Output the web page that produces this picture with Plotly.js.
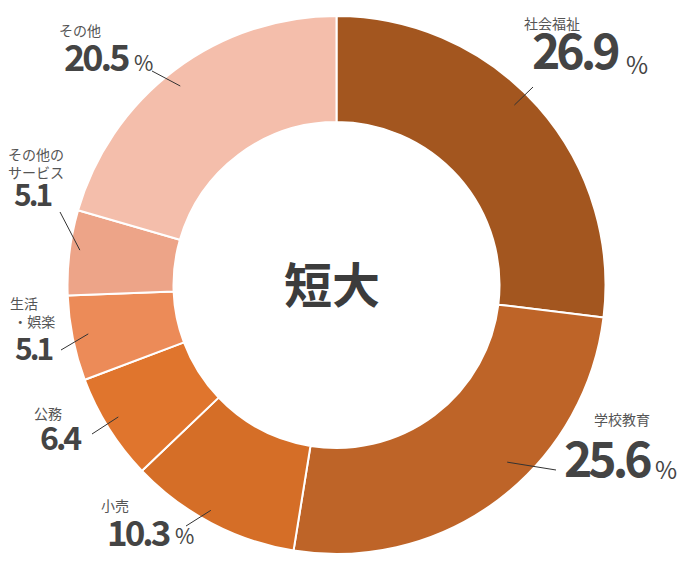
<!DOCTYPE html>
<html>
<head>
<meta charset="utf-8">
<script src="https://cdn.plot.ly/plotly-3.0.1.min.js"></script>
<style>html,body{margin:0;padding:0;background:#fff;}#chart{width:678px;height:571px;}</style>
</head>
<body>
<div id="chart"></div>
<script>
// ---- data ----
const categories = ['社会福祉', '学校教育', '小売', '公務', '生活・娯楽', 'その他のサービス', 'その他'];
const displayNames = ['社会福祉', '学校教育', '小売', '公務', '生活<br> ・娯楽', 'その他の<br>サービス', 'その他'];
const shares = [26.9, 25.6, 10.3, 6.4, 5.1, 5.1, 20.5];
const showPercent = [true, true, true, false, false, false, true];
const centerLabel = '短大';

// ---- styling / layout config ----
const W = 678, H = 571;
const colors = ['#A3561F', '#BE6428', '#D56E27', '#E0752D', '#EC8B58', '#EDA488', '#F4BEAB'];
const CX = 336.5, CY = 285, R = 269;
const labelLayout = [
  {cat: [552, 24, 'center'], num: [530, 55], numSize: 48, ls: -4, pct: [624, 67], pctSize: 24, lineEnd: [533, 87], nudge: -3.8, r0: 253},
  {cat: [622, 420, 'center'], num: [562, 463], numSize: 48, ls: -4, pct: [653, 472], pctSize: 24, lineEnd: [556, 470], nudge: -7, r0: 246},
  {cat: [115, 506, 'center'], num: [105, 535], numSize: 35, ls: -3, pct: [173, 538], pctSize: 21, lineEnd: [186, 526], nudge: 1.4, r0: 258},
  {cat: [48, 414, 'center'], num: [38, 440], numSize: 32, ls: -3, lineEnd: [92, 434], nudge: 1, r0: 255},
  {cat: [8, 313, 'left'], num: [13, 351], numSize: 30, ls: -3, lineEnd: [61, 350], nudge: 0.3, r0: 253},
  {cat: [6, 164, 'left'], num: [12, 197], numSize: 30, ls: -3, lineEnd: [60, 212], nudge: 0.8, r0: 259},
  {cat: [80, 31, 'center'], num: [62, 60], numSize: 36, ls: -3, pct: [132, 65], pctSize: 21, lineEnd: [152, 71], nudge: -1.2, r0: 253}
];
const FONT = '"Noto Sans CJK JP", "Noto Sans", sans-serif';
const VOFF = 0.14; // glyph-centre correction (fraction of font size)

const px = x => x / W;
const py = y => 1 - y / H;

const total = shares.reduce((a, b) => a + b, 0);
const annotations = [];
const shapes = [];
let cum = 0;
shares.forEach((v, i) => {
  const L = labelLayout[i];
  const mid = (cum + v / 2) / total * 360 + L.nudge;
  cum += v;
  const t = mid * Math.PI / 180;
  const sx = CX + L.r0 * Math.sin(t), sy = CY - L.r0 * Math.cos(t);
  shapes.push({type: 'line', xref: 'paper', yref: 'paper', x0: px(sx), y0: py(sy), x1: px(L.lineEnd[0]), y1: py(L.lineEnd[1]),
    line: {color: '#333', width: 1}});
  annotations.push({xref: 'paper', yref: 'paper', x: px(L.cat[0]), y: py(L.cat[1] - 1), xanchor: L.cat[2], yanchor: 'middle',
    align: 'left', showarrow: false, text: displayNames[i], font: {family: FONT, size: 14, color: '#555'}});
  annotations.push({xref: 'paper', yref: 'paper', x: px(L.num[0]), y: py(L.num[1] - VOFF * L.numSize), xanchor: 'left', yanchor: 'middle',
    showarrow: false, text: '<span style="letter-spacing:' + L.ls + 'px">' + v.toFixed(1) + '</span>',
    font: {family: FONT, size: L.numSize, color: '#444', weight: 'bold'}});
  if (showPercent[i]) {
    annotations.push({xref: 'paper', yref: 'paper', x: px(L.pct[0]), y: py(L.pct[1] - VOFF * L.pctSize), xanchor: 'left', yanchor: 'middle',
      showarrow: false, text: '%', font: {family: FONT, size: L.pctSize, color: '#444'}});
  }
});
annotations.push({xref: 'paper', yref: 'paper', x: px(332), y: py(282), xanchor: 'center', yanchor: 'middle', showarrow: false,
  text: centerLabel, font: {family: FONT, size: 48, color: '#3c3c3c', weight: 'bold'}});

const trace = {
  type: 'pie',
  labels: categories,
  values: shares,
  sort: false,
  direction: 'clockwise',
  rotation: 0,
  hole: 0.606,
  textinfo: 'none',
  hoverinfo: 'label+value',
  marker: {colors: colors, line: {color: '#fff', width: 2}},
  domain: {x: [px(CX - R), px(CX + R)], y: [py(CY + R), py(CY - R)]},
  showlegend: false
};

Plotly.newPlot('chart', [trace], {
  width: W, height: H,
  margin: {l: 0, r: 0, t: 0, b: 0},
  paper_bgcolor: '#fff',
  showlegend: false,
  annotations: annotations,
  shapes: shapes
}, {displayModeBar: false, staticPlot: true});
</script>
</body>
</html>
